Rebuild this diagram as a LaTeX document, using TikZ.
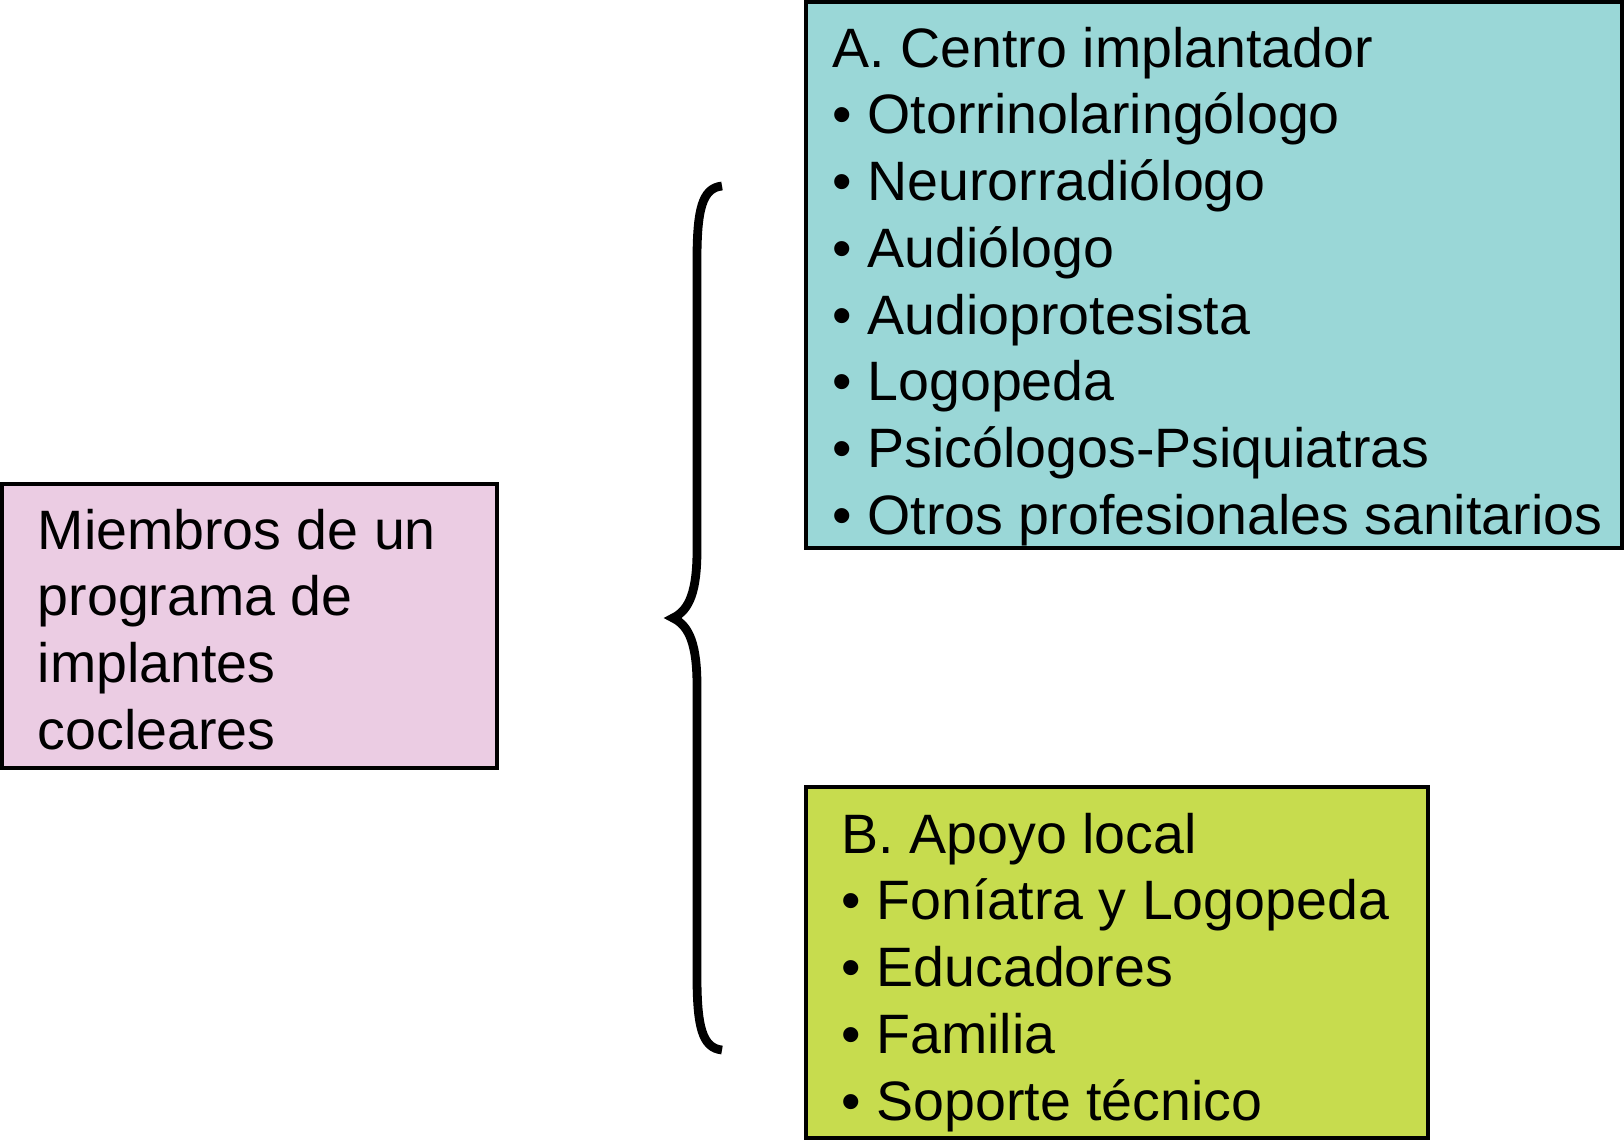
\documentclass[tikz,border=0pt]{standalone}
\usepackage{fontspec}
\setmainfont{Liberation Sans}
\usetikzlibrary{calc}

\definecolor{pinkbox}{RGB}{235,204,227}
\definecolor{tealbox}{RGB}{154,215,215}
\definecolor{limebox}{RGB}{199,220,78}

\begin{document}
\begin{tikzpicture}[
  font=\fontsize{15.8}{19}\selectfont,
  box/.style={draw=black, line width=1.1pt, inner sep=0pt},
  boxtext/.style={anchor=north west, align=left, inner sep=0pt},
  brace/.style={line width=2.5pt},
]
\useasboundingbox (0,0) rectangle (16.24,-11.40);

% --- Left: members box ---
\node[box, fill=pinkbox, minimum width=4.95cm, minimum height=2.84cm] (members) at (2.495,-6.26) {};
\node[boxtext] (memberstext) at ($(members.north west)+(0.37,-0.26)$) {Miembros de un\\programa de\\implantes\\cocleares};

% --- Right top: centro implantador ---
\node[box, fill=tealbox, minimum width=8.16cm, minimum height=5.46cm] (centro) at (12.14,-2.75) {};
\node[boxtext] (centrotext) at ($(centro.north west)+(0.28,-0.26)$)
{A. Centro implantador\\• Otorrinolaringólogo\\• Neurorradiólogo\\• Audiólogo\\• Audioprotesista\\• Logopeda\\• Psicólogos-Psiquiatras\\• Otros profesionales sanitarios};

% --- Right bottom: apoyo local ---
\node[box, fill=limebox, minimum width=6.22cm, minimum height=3.51cm] (apoyo) at (11.17,-9.625) {};
\node[boxtext] (apoyotext) at ($(apoyo.north west)+(0.37,-0.27)$)
{B. Apoyo local\\• Foníatra y Logopeda\\• Educadores\\• Familia\\• Soporte técnico};

% --- Brace ---
\draw[brace] (7.22,-1.86) .. controls (7.02,-1.88) and (6.97,-2.10) .. (6.97,-2.60)
  -- (6.97,-5.50) .. controls (6.97,-5.90) and (6.90,-6.10) .. (6.73,-6.18)
  .. controls (6.90,-6.26) and (6.97,-6.46) .. (6.97,-6.86)
  -- (6.97,-9.76) .. controls (6.97,-10.26) and (7.02,-10.48) .. (7.22,-10.50);

\end{tikzpicture}
\end{document}
